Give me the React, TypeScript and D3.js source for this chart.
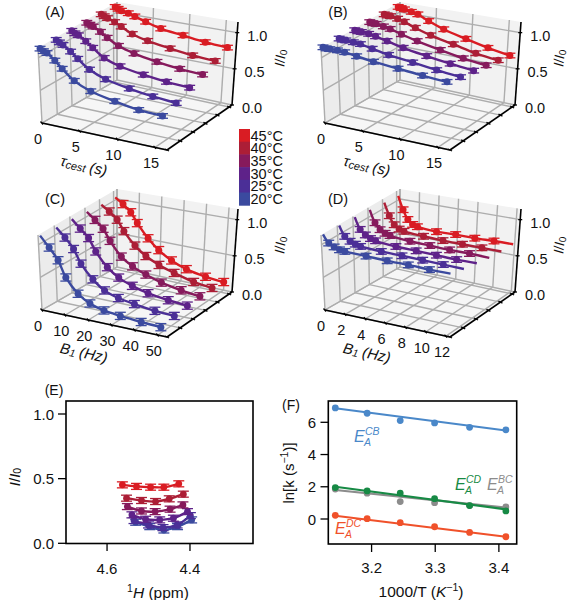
import React from "react";
import * as d3 from "d3";

const temps = ["45°C", "40°C", "35°C", "30°C", "25°C", "20°C"];
const tempColors = ["#d91c23", "#ac1e36", "#861a5c", "#5e2289", "#4b2f97", "#3b4a9f"];
const seriesColors = ["#3b4a9f", "#4b2f97", "#5e2289", "#861a5c", "#ac1e36", "#d91c23"];
const seriesY = [0.12, 1.12, 2.12, 3.12, 4.12, 5.12];
const yTicks = [0, 1, 2, 3, 4, 5];
const zTicks = [0, 0.5, 1];

const tauX = [0, 0.4, 0.85, 1.8, 2.7, 4.2, 6.3, 9.4, 12.5, 15.6];
const tauTicks = [0, 5, 10, 15];
const aValues = [
  [1.12, 1.09, 1.07, 0.975, 0.87, 0.72, 0.61, 0.53, 0.47, 0.45],
  [1.11, 1.08, 1.05, 0.97, 0.88, 0.75, 0.65, 0.58, 0.53, 0.5],
  [1.11, 1.08, 1.06, 0.99, 0.91, 0.79, 0.71, 0.65, 0.61, 0.59],
  [1.1, 1.08, 1.06, 1.0, 0.93, 0.84, 0.77, 0.71, 0.67, 0.65],
  [1.1, 1.08, 1.06, 1.02, 0.97, 0.89, 0.83, 0.78, 0.74, 0.72],
  [1.09, 1.07, 1.05, 1.03, 1.0, 0.95, 0.89, 0.85, 0.81, 0.79],
];
const bValues = [
  [1.14, 1.13, 1.13, 1.13, 1.12, 1.09, 1.05, 1.01, 0.97, 0.94],
  [1.13, 1.12, 1.12, 1.11, 1.1, 1.06, 1.01, 0.96, 0.91, 0.87],
  [1.12, 1.11, 1.11, 1.1, 1.08, 1.04, 0.98, 0.92, 0.87, 0.83],
  [1.11, 1.1, 1.1, 1.08, 1.06, 1.01, 0.95, 0.88, 0.82, 0.78],
  [1.1, 1.09, 1.09, 1.07, 1.04, 0.98, 0.91, 0.84, 0.77, 0.73],
  [1.09, 1.08, 1.07, 1.05, 1.03, 0.96, 0.88, 0.8, 0.73, 0.68],
];
const b1cX = [0, 3.5, 7, 10, 15, 20, 26, 33, 42, 50.5];
const b1cTicks = [0, 10, 20, 30, 40, 50];
const cValues = [
  [1.12, 0.96, 0.79, 0.55, 0.34, 0.23, 0.17, 0.14, 0.115, 0.1],
  [1.1, 0.97, 0.82, 0.62, 0.42, 0.29, 0.22, 0.18, 0.145, 0.13],
  [1.09, 0.97, 0.85, 0.67, 0.47, 0.35, 0.27, 0.21, 0.17, 0.15],
  [1.07, 0.97, 0.86, 0.7, 0.5, 0.39, 0.31, 0.24, 0.19, 0.16],
  [1.05, 0.97, 0.87, 0.72, 0.54, 0.42, 0.33, 0.26, 0.19, 0.16],
  [1.04, 0.96, 0.86, 0.72, 0.53, 0.39, 0.28, 0.2, 0.15, 0.13],
];
const b1dX = [0, 0.5, 1, 1.5, 2, 4, 6, 8, 10, 12];
const b1dTicks = [0, 2, 4, 6, 8, 10, 12];
const dValues = [
  [1.14, 1.02, 0.975, 0.945, 0.935, 0.92, 0.905, 0.9, 0.885, 0.88],
  [1.13, 0.98, 0.92, 0.89, 0.87, 0.85, 0.84, 0.83, 0.82, 0.81],
  [1.12, 0.95, 0.88, 0.84, 0.82, 0.79, 0.78, 0.77, 0.76, 0.76],
  [1.1, 0.92, 0.83, 0.79, 0.77, 0.74, 0.73, 0.72, 0.72, 0.71],
  [1.08, 0.9, 0.78, 0.73, 0.71, 0.69, 0.68, 0.68, 0.68, 0.68],
  [1.06, 0.87, 0.74, 0.68, 0.66, 0.64, 0.65, 0.65, 0.66, 0.665],
];

const ePpm = [
  [4.531, 4.497, 4.463, 4.43, 4.396],
  [4.535, 4.5, 4.465, 4.431, 4.399],
  [4.54, 4.507, 4.473, 4.44, 4.406],
  [4.551, 4.517, 4.484, 4.448, 4.417],
  [4.553, 4.517, 4.483, 4.45, 4.416],
  [4.563, 4.529, 4.495, 4.463, 4.427],
];
const eI = [
  [0.163, 0.129, 0.103, 0.129, 0.181],
  [0.176, 0.142, 0.121, 0.142, 0.214],
  [0.22, 0.186, 0.181, 0.194, 0.245],
  [0.284, 0.25, 0.245, 0.264, 0.297],
  [0.349, 0.331, 0.323, 0.344, 0.38],
  [0.452, 0.44, 0.434, 0.434, 0.46],
];

const fX = [3.143, 3.193, 3.245, 3.299, 3.354, 3.411];
const fitEnds = [3.143, 3.411];
const grayPts = [1.86, 1.6, 1.08, 1.01, 0.83, 0.75];
const grayFit = [1.8, 0.7];
const bluePts = [6.89, 6.56, 6.11, 5.96, 5.69, 5.53];
const blueFit = [6.87, 5.49];
const greenPts = [1.95, 1.74, 1.61, 1.26, 0.83, 0.5];
const greenFit = [2.0, 0.6];
const orangePts = [0.23, 0.02, -0.23, -0.48, -0.83, -1.1];
const orangeFit = [0.2, -1.1];

const FONT = "'Liberation Sans', Arial, sans-serif";
const GRID = "#adadad";
type Pt = [number, number];

function homography(q: Pt[]) {
  const [[x0, y0], [x1, y1], [x2, y2], [x3, y3]] = q;
  const dx1 = x1 - x2, dx2 = x3 - x2, sx = x0 - x1 + x2 - x3;
  const dy1 = y1 - y2, dy2 = y3 - y2, sy = y0 - y1 + y2 - y3;
  const den = dx1 * dy2 - dx2 * dy1;
  const g = (sx * dy2 - dx2 * sy) / den;
  const h = (dx1 * sy - sx * dy1) / den;
  const a = x1 - x0 + g * x1, b = x3 - x0 + h * x3, c = x0;
  const d = y1 - y0 + g * y1, e = y3 - y0 + h * y3, f = y0;
  return (u: number, v: number): Pt => {
    const w = g * u + h * v + 1;
    return [(a * u + b * v + c) / w, (d * u + e * v + f) / w];
  };
}

const floorQuad: Pt[] = [[42, 123], [167, 150], [232, 105], [117, 80]];
const topQuad: Pt[] = [[38, 48], [171, 70], [238, 22], [117, 2]];
const floorH = homography(floorQuad);
const topH = homography(topQuad);
const Z_MAX = 1.147;

function pathOf(pts: Pt[]) {
  return "M" + pts.map((p) => p[0].toFixed(2) + "," + p[1].toFixed(2)).join("L");
}

function Panel3D(props: {
  dx: number; dy: number; label: string; xs: number[]; xMax: number; ticks: number[]; err: number;
  values: number[][]; lastLineOnly?: boolean; firstLineOnly?: boolean; title: React.ReactNode; zLabelX: number;
}) {
  const { dx, dy, label, xs, xMax, ticks, err, values, lastLineOnly, firstLineOnly, title, zLabelX } = props;
  const sx = d3.scaleLinear().domain([0, xMax]).range([0, 1]);
  const sy = d3.scaleLinear().domain([0, 5.25]).range([0, 1]);
  const sz = d3.scaleLinear().domain([0, Z_MAX]).range([0, 1]);
  const proj = (u: number, v: number, w: number): Pt => {
    const f = floorH(u, v), t = topH(u, v);
    return [f[0] + (t[0] - f[0]) * w, f[1] + (t[1] - f[1]) * w];
  };
  const P = (x: number, y: number, z: number) => proj(sx(x), sy(y), sz(z));
  const seg = (a: Pt, b: Pt, k: string, stroke = GRID, w = 1.4) => (
    <line key={k} x1={a[0]} y1={a[1]} x2={b[0]} y2={b[1]} stroke={stroke} strokeWidth={w} />
  );
  const line = d3.line<Pt>().x((d) => d[0]).y((d) => d[1]).curve(d3.curveCatmullRom.alpha(0.5));
  const poly = (pts: Pt[], fill: string) => <path d={pathOf(pts) + "Z"} fill={fill} />;
  return (
    <g transform={`translate(${dx},${dy})`}>
      {poly([proj(0, 0, 0), proj(0, 1, 0), proj(0, 1, 1), proj(0, 0, 1)], "#ececec")}
      {poly([proj(0, 1, 0), proj(1, 1, 0), proj(1, 1, 1), proj(0, 1, 1)], "#f2f2f2")}
      {poly([proj(0, 0, 0), proj(1, 0, 0), proj(1, 1, 0), proj(0, 1, 0)], "#f6f6f6")}
      {ticks.map((t) => (
        <g key={"gx" + t}>
          {seg(proj(sx(t), 0, 0), proj(sx(t), 1, 0), "a")}
          {seg(proj(sx(t), 1, 0), proj(sx(t), 1, 1), "b")}
        </g>
      ))}
      {yTicks.map((t) => (
        <g key={"gy" + t}>
          {seg(proj(0, sy(t), 0), proj(1, sy(t), 0), "a")}
          {seg(proj(0, sy(t), 0), proj(0, sy(t), 1), "b")}
        </g>
      ))}
      {zTicks.map((t) => (
        <g key={"gz" + t}>
          {seg(proj(0, 0, sz(t)), proj(0, 1, sz(t)), "a")}
          {seg(proj(0, 1, sz(t)), proj(1, 1, sz(t)), "b")}
        </g>
      ))}
      {seg(proj(0, 1, 0), proj(0, 1, 1), "corner")}
      {seg(proj(0, 0, 0), proj(1, 0, 0), "ax", "#000", 1.6)}
      {seg(proj(1, 0, 0), proj(1, 1, 0), "ay", "#000", 1.6)}
      {seg(proj(1, 1, 0), proj(1, 1, 1), "az", "#000", 1.6)}
      {ticks.map((t) => {
        const p = proj(sx(t), 0, 0);
        return (
          <g key={"tx" + t}>
            {seg([p[0] - 1.5, p[1] - 1.5], [p[0] + 1, p[1] + 1.5], "k", "#000", 1.3)}
            <text x={p[0] - 4} y={p[1] + 16} fontSize={14.5} textAnchor="middle" dominantBaseline="central">{t}</text>
          </g>
        );
      })}
      {yTicks.map((t) => {
        const p = proj(1, sy(t), 0);
        return <g key={"ty" + t}>{seg([p[0] - 2, p[1] - 1], [p[0] + 2, p[1] + 1], "k", "#000", 1.3)}</g>;
      })}
      {zTicks.map((t) => {
        const p = proj(1, 1, sz(t));
        return (
          <g key={"tz" + t}>
            {seg([p[0] - 2, p[1]], [p[0] + 2, p[1]], "k", "#000", 1.3)}
            <text x={p[0] + 20} y={p[1] + 3} fontSize={14.5} textAnchor="middle" dominantBaseline="central">{t.toFixed(1)}</text>
          </g>
        );
      })}
      <text x={55} y={12} fontSize={14.5} textAnchor="middle" dominantBaseline="central">{label}</text>
      <text transform={`translate(${zLabelX},58) rotate(-85)`} fontSize={14} textAnchor="middle" dominantBaseline="central">
        <tspan fontStyle="italic">I</tspan>/<tspan fontStyle="italic">I</tspan><tspan fontSize={10} dy={2.5}>0</tspan>
      </text>
      <g transform="translate(84,165) rotate(12)">{title}</g>
      {values.map((row, i) => {
        const pts = row.map((z, j) => P(xs[j], seriesY[i], z));
        const c = seriesColors[i];
        return (
          <g key={i}>
            <path d={line(pts) || ""} fill="none" stroke={c} strokeWidth={2.4} />
            {pts.map((p, j) => {
              if (lastLineOnly && j === pts.length - 1) return null;
              if (firstLineOnly && j === 0) return null;
              return (
                <g key={j} stroke={c} strokeWidth={1.3}>
                  <line x1={p[0]} x2={p[0]} y1={p[1] - err} y2={p[1] + err} />
                  <line x1={p[0] - 5.5} x2={p[0] + 5.5} y1={p[1] - err} y2={p[1] - err} />
                  <line x1={p[0] - 5.5} x2={p[0] + 5.5} y1={p[1] + err} y2={p[1] + err} />
                  <circle cx={p[0]} cy={p[1]} r={3.5} fill={c} stroke="none" />
                </g>
              );
            })}
          </g>
        );
      })}
    </g>
  );
}

const tauTitle = (
  <text fontSize={15} textAnchor="middle" dominantBaseline="central" fontStyle="italic">
    τ<tspan fontSize={11} dy={3}>cest</tspan><tspan dy={-3} dx={4}>(s)</tspan>
  </text>
);
const b1Title = (
  <text fontSize={15} textAnchor="middle" dominantBaseline="central">
    <tspan fontStyle="italic">B</tspan><tspan fontSize={10.5} dy={3} fontStyle="italic">1</tspan>
    <tspan dy={-3} dx={4} fontStyle="italic">(Hz)</tspan>
  </text>
);

function PanelE() {
  const x = d3.scaleLinear().domain([4.699, 4.248]).range([66, 253]);
  const y = d3.scaleLinear().domain([0, 1]).range([543.3, 414]);
  return (
    <g>
      {eI.map((row, i) => {
        const pts: Pt[] = row.map((v, j) => [x(ePpm[i][j]), y(v)]);
        const c = seriesColors[i];
        const l = d3.line<Pt>().x((d) => d[0]).y((d) => d[1]).curve(d3.curveCatmullRom.alpha(0.5));
        return (
          <g key={i}>
            <path d={l(pts) || ""} fill="none" stroke={c} strokeWidth={2.4} />
            {pts.map((p, j) => (
              <g key={j} stroke={c} strokeWidth={1.3}>
                <line x1={p[0]} x2={p[0]} y1={p[1] - 3} y2={p[1] + 3} />
                <line x1={p[0] - 5.5} x2={p[0] + 5.5} y1={p[1] - 3} y2={p[1] - 3} />
                <line x1={p[0] - 5.5} x2={p[0] + 5.5} y1={p[1] + 3} y2={p[1] + 3} />
                <circle cx={p[0]} cy={p[1]} r={3.4} fill={c} stroke="none" />
              </g>
            ))}
          </g>
        );
      })}
      <rect x={66} y={401} width={187} height={142.5} fill="none" stroke="#000" strokeWidth={1.6} />
      {[0, 0.5, 1].map((t) => (
        <g key={t}>
          <line x1={58} x2={66} y1={y(t)} y2={y(t)} stroke="#000" strokeWidth={1.3} />
          <text x={54} y={y(t)} fontSize={15} textAnchor="end" dominantBaseline="central">{t.toFixed(1)}</text>
        </g>
      ))}
      {[4.6, 4.4].map((t) => (
        <g key={t}>
          <line x1={x(t)} x2={x(t)} y1={543} y2={551} stroke="#000" strokeWidth={1.3} />
          <text x={x(t)} y={568} fontSize={15} textAnchor="middle" dominantBaseline="central">{t.toFixed(1)}</text>
        </g>
      ))}
      <text x={54} y={390} fontSize={14} textAnchor="middle" dominantBaseline="central">(E)</text>
      <text transform="translate(14,477) rotate(-90)" fontSize={15} textAnchor="middle" dominantBaseline="central">
        <tspan fontStyle="italic">I</tspan>/<tspan fontStyle="italic">I</tspan><tspan fontSize={10.5} dy={3}>0</tspan>
      </text>
      <text x={158} y={592} fontSize={15.5} textAnchor="middle" dominantBaseline="central">
        <tspan fontSize={10.5} dy={-4}>1</tspan><tspan fontStyle="italic" dy={4}>H</tspan> (ppm)
      </text>
    </g>
  );
}

function EaLabel(props: { x: number; y: number; color: string; sup: string }) {
  const { x, y, color, sup } = props;
  return (
    <g fill={color} fontStyle="italic" fontFamily={FONT}>
      <text x={x} y={y} fontSize={16}>E</text>
      <text x={x + 11} y={y - 7} fontSize={10.5}>{sup}</text>
      <text x={x + 10} y={y + 4} fontSize={10.5}>A</text>
    </g>
  );
}

function PanelF() {
  const x = d3.scaleLinear().domain([3.132, 3.428]).range([328.3, 516.7]);
  const y = d3.scaleLinear().domain([0, 6]).range([519, 422.3]);
  const series = [
    { c: "#8c8c8c", p: grayPts, f: grayFit },
    { c: "#4a88c9", p: bluePts, f: blueFit },
    { c: "#178a45", p: greenPts, f: greenFit },
    { c: "#f0512a", p: orangePts, f: orangeFit },
  ];
  return (
    <g>
      {series.map((s) => (
        <g key={s.c}>
          <line x1={x(fitEnds[0])} x2={x(fitEnds[1])} y1={y(s.f[0])} y2={y(s.f[1])} stroke={s.c} strokeWidth={2.2} />
          {s.p.map((v, j) => <circle key={j} cx={x(fX[j])} cy={y(v)} r={3.4} fill={s.c} />)}
        </g>
      ))}
      <rect x={328.3} y={401} width={188.4} height={143} fill="none" stroke="#000" strokeWidth={1.6} />
      {[0, 2, 4, 6].map((t) => (
        <g key={t}>
          <line x1={320.5} x2={328.3} y1={y(t)} y2={y(t)} stroke="#000" strokeWidth={1.3} />
          <text x={316} y={y(t)} fontSize={15} textAnchor="end" dominantBaseline="central">{t}</text>
        </g>
      ))}
      {[3.2, 3.3, 3.4].map((t) => (
        <g key={t}>
          <line x1={x(t)} x2={x(t)} y1={544} y2={552} stroke="#000" strokeWidth={1.3} />
          <text x={x(t)} y={567} fontSize={15} textAnchor="middle" dominantBaseline="central">{t.toFixed(1)}</text>
        </g>
      ))}
      <text x={291} y={405} fontSize={14} textAnchor="middle" dominantBaseline="central">(F)</text>
      <text transform="translate(288,473) rotate(-90)" fontSize={15} textAnchor="middle" dominantBaseline="central">
        ln[k (s<tspan fontSize={10.5} dy={-4}>−1</tspan><tspan dy={4}>)]</tspan>
      </text>
      <text x={421} y={591} fontSize={15.5} textAnchor="middle" dominantBaseline="central">
        1000/T (<tspan fontStyle="italic">K</tspan><tspan fontSize={10.5} dy={-4}>−1</tspan><tspan dy={4}>)</tspan>
      </text>
      <EaLabel x={354} y={442} color="#4a88c9" sup="CB" />
      <EaLabel x={455} y={490} color="#178a45" sup="CD" />
      <EaLabel x={487} y={490} color="#8c8c8c" sup="BC" />
      <EaLabel x={335} y={534} color="#f0512a" sup="DC" />
    </g>
  );
}

export default function App() {
  const cell = 12.7;
  return (
    <svg width={567} height={600} style={{ position: "absolute", left: 0, top: 0, background: "#fff" }} fontFamily={FONT} fill="#111">
      <Panel3D dx={0} dy={0} label="(A)" xs={tauX} xMax={16.6} ticks={tauTicks} err={2.3} values={aValues} title={tauTitle} zLabelX={280} />
      <Panel3D dx={283} dy={0} label="(B)" xs={tauX} xMax={16.6} ticks={tauTicks} err={2.3} values={bValues} title={tauTitle} zLabelX={276} />
      <Panel3D dx={0} dy={187} label="(C)" xs={b1cX} xMax={54} ticks={b1cTicks} err={3.6} values={cValues} firstLineOnly title={b1Title} zLabelX={280} />
      <Panel3D dx={283} dy={187} label="(D)" xs={b1dX} xMax={12.4} ticks={b1dTicks} err={2.8} values={dValues} firstLineOnly lastLineOnly title={b1Title} zLabelX={276} />
      {temps.map((t, i) => (
        <g key={t}>
          <rect x={239} y={129 + i * cell} width={11} height={cell + 0.5} fill={tempColors[i]} />
          <text x={250.5} y={135.5 + i * cell} fontSize={14.5} dominantBaseline="central">{t}</text>
        </g>
      ))}
      <PanelE />
      <PanelF />
    </svg>
  );
}
